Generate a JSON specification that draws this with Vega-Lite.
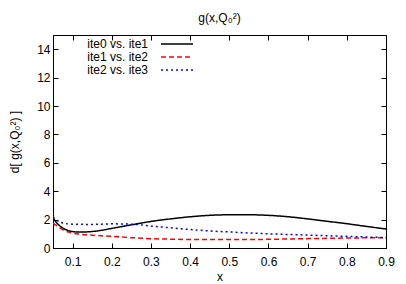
{
  "$schema": "https://vega.github.io/schema/vega-lite/v6.json",
  "autosize": {"type": "none"},
  "padding": {"left": 53, "top": 35, "right": 20, "bottom": 36},
  "width": 333,
  "height": 213,
  "background": "white",
  "title": {"text": "g(x,Q₀²)", "font": "Liberation Sans", "fontSize": 12, "fontWeight": "normal", "color": "black", "offset": 10},
  "config": {
    "view": {"stroke": "black", "strokeWidth": 1},
    "axis": {"labelFont": "Liberation Sans", "titleFont": "Liberation Sans", "labelFontSize": 12, "titleFontSize": 12, "titleFontWeight": "normal", "labelColor": "black", "titleColor": "black", "domainColor": "black", "tickColor": "black", "grid": false, "tickSize": -5, "labelPadding": 8, "labelFlush": false}
  },
  "data": {"values": [
    {"s": "ite0 vs. ite1", "x": 0.05, "y": 2.15},
    {"s": "ite0 vs. ite1", "x": 0.06, "y": 1.75},
    {"s": "ite0 vs. ite1", "x": 0.07, "y": 1.5},
    {"s": "ite0 vs. ite1", "x": 0.08, "y": 1.33},
    {"s": "ite0 vs. ite1", "x": 0.09, "y": 1.22},
    {"s": "ite0 vs. ite1", "x": 0.1, "y": 1.16},
    {"s": "ite0 vs. ite1", "x": 0.12, "y": 1.12},
    {"s": "ite0 vs. ite1", "x": 0.14, "y": 1.14},
    {"s": "ite0 vs. ite1", "x": 0.17, "y": 1.23},
    {"s": "ite0 vs. ite1", "x": 0.2, "y": 1.38},
    {"s": "ite0 vs. ite1", "x": 0.25, "y": 1.63},
    {"s": "ite0 vs. ite1", "x": 0.3, "y": 1.87},
    {"s": "ite0 vs. ite1", "x": 0.35, "y": 2.05},
    {"s": "ite0 vs. ite1", "x": 0.4, "y": 2.2},
    {"s": "ite0 vs. ite1", "x": 0.45, "y": 2.3},
    {"s": "ite0 vs. ite1", "x": 0.5, "y": 2.34},
    {"s": "ite0 vs. ite1", "x": 0.55, "y": 2.34},
    {"s": "ite0 vs. ite1", "x": 0.6, "y": 2.3},
    {"s": "ite0 vs. ite1", "x": 0.65, "y": 2.2},
    {"s": "ite0 vs. ite1", "x": 0.7, "y": 2.05},
    {"s": "ite0 vs. ite1", "x": 0.75, "y": 1.88},
    {"s": "ite0 vs. ite1", "x": 0.8, "y": 1.71},
    {"s": "ite0 vs. ite1", "x": 0.85, "y": 1.52},
    {"s": "ite0 vs. ite1", "x": 0.9, "y": 1.34},
    {"s": "ite1 vs. ite2", "x": 0.05, "y": 1.76},
    {"s": "ite1 vs. ite2", "x": 0.06, "y": 1.55},
    {"s": "ite1 vs. ite2", "x": 0.07, "y": 1.38},
    {"s": "ite1 vs. ite2", "x": 0.08, "y": 1.22},
    {"s": "ite1 vs. ite2", "x": 0.09, "y": 1.12},
    {"s": "ite1 vs. ite2", "x": 0.1, "y": 1.05},
    {"s": "ite1 vs. ite2", "x": 0.12, "y": 0.97},
    {"s": "ite1 vs. ite2", "x": 0.15, "y": 0.9},
    {"s": "ite1 vs. ite2", "x": 0.2, "y": 0.82},
    {"s": "ite1 vs. ite2", "x": 0.25, "y": 0.73},
    {"s": "ite1 vs. ite2", "x": 0.3, "y": 0.66},
    {"s": "ite1 vs. ite2", "x": 0.35, "y": 0.62},
    {"s": "ite1 vs. ite2", "x": 0.4, "y": 0.6},
    {"s": "ite1 vs. ite2", "x": 0.5, "y": 0.59},
    {"s": "ite1 vs. ite2", "x": 0.6, "y": 0.61},
    {"s": "ite1 vs. ite2", "x": 0.7, "y": 0.66},
    {"s": "ite1 vs. ite2", "x": 0.8, "y": 0.7},
    {"s": "ite1 vs. ite2", "x": 0.9, "y": 0.73},
    {"s": "ite2 vs. ite3", "x": 0.05, "y": 2.2},
    {"s": "ite2 vs. ite3", "x": 0.06, "y": 1.95},
    {"s": "ite2 vs. ite3", "x": 0.07, "y": 1.8},
    {"s": "ite2 vs. ite3", "x": 0.08, "y": 1.73},
    {"s": "ite2 vs. ite3", "x": 0.1, "y": 1.68},
    {"s": "ite2 vs. ite3", "x": 0.15, "y": 1.66},
    {"s": "ite2 vs. ite3", "x": 0.2, "y": 1.7},
    {"s": "ite2 vs. ite3", "x": 0.25, "y": 1.68},
    {"s": "ite2 vs. ite3", "x": 0.3, "y": 1.55},
    {"s": "ite2 vs. ite3", "x": 0.35, "y": 1.42},
    {"s": "ite2 vs. ite3", "x": 0.4, "y": 1.3},
    {"s": "ite2 vs. ite3", "x": 0.45, "y": 1.2},
    {"s": "ite2 vs. ite3", "x": 0.5, "y": 1.13},
    {"s": "ite2 vs. ite3", "x": 0.55, "y": 1.06},
    {"s": "ite2 vs. ite3", "x": 0.6, "y": 1.0},
    {"s": "ite2 vs. ite3", "x": 0.7, "y": 0.91},
    {"s": "ite2 vs. ite3", "x": 0.8, "y": 0.82},
    {"s": "ite2 vs. ite3", "x": 0.9, "y": 0.73}
  ]},
  "layer": [
    {
      "mark": {"type": "line", "interpolate": "monotone", "strokeWidth": 1.5, "clip": true},
      "encoding": {
        "x": {"field": "x", "type": "quantitative", "scale": {"domain": [0.05, 0.9], "nice": false, "zero": false},
              "axis": {"title": "x", "values": [0.1, 0.2, 0.3, 0.4, 0.5, 0.6, 0.7, 0.8, 0.9], "format": ".1f", "labelPadding": 13, "titlePadding": 4}},
        "y": {"field": "y", "type": "quantitative", "scale": {"domain": [0, 15], "nice": false, "zero": false},
              "axis": {"title": "d[ g(x,Q₀²) ]", "values": [0, 2, 4, 6, 8, 10, 12, 14], "titlePadding": 15}},
        "color": {"field": "s", "type": "nominal", "scale": {"domain": ["ite0 vs. ite1", "ite1 vs. ite2", "ite2 vs. ite3"], "range": ["#000000", "#ff0000", "#0000ff"]},
                  "legend": {"title": null, "orient": "none", "legendX": 118, "legendY": 3, "padding": 0, "symbolType": "M-3.2,0H3.2", "symbolSize": 100, "symbolStrokeWidth": 1.5, "labelAlign": "right", "labelOffset": -35, "labelFont": "Liberation Sans", "labelFontSize": 12, "labelColor": "black", "rowPadding": 1}},
        "strokeDash": {"field": "s", "type": "nominal", "scale": {"domain": ["ite0 vs. ite1", "ite1 vs. ite2", "ite2 vs. ite3"], "range": [[1, 0], [5, 3], [2, 3]]}, "legend": null}
      }
    },
    {
      "mark": {"type": "point", "opacity": 0},
      "encoding": {
        "x": {"field": "x", "type": "quantitative", "scale": {"domain": [0.05, 0.9], "nice": false, "zero": false}, "axis": {"orient": "top", "labels": false, "title": null, "domain": false, "values": [0.1, 0.2, 0.3, 0.4, 0.5, 0.6, 0.7, 0.8, 0.9]}},
        "y": {"field": "y", "type": "quantitative", "scale": {"domain": [0, 15], "nice": false, "zero": false}, "axis": {"orient": "right", "labels": false, "title": null, "domain": false, "values": [0, 2, 4, 6, 8, 10, 12, 14]}}
      }
    }
  ],
  "resolve": {"axis": {"x": "independent", "y": "independent"}}
}
